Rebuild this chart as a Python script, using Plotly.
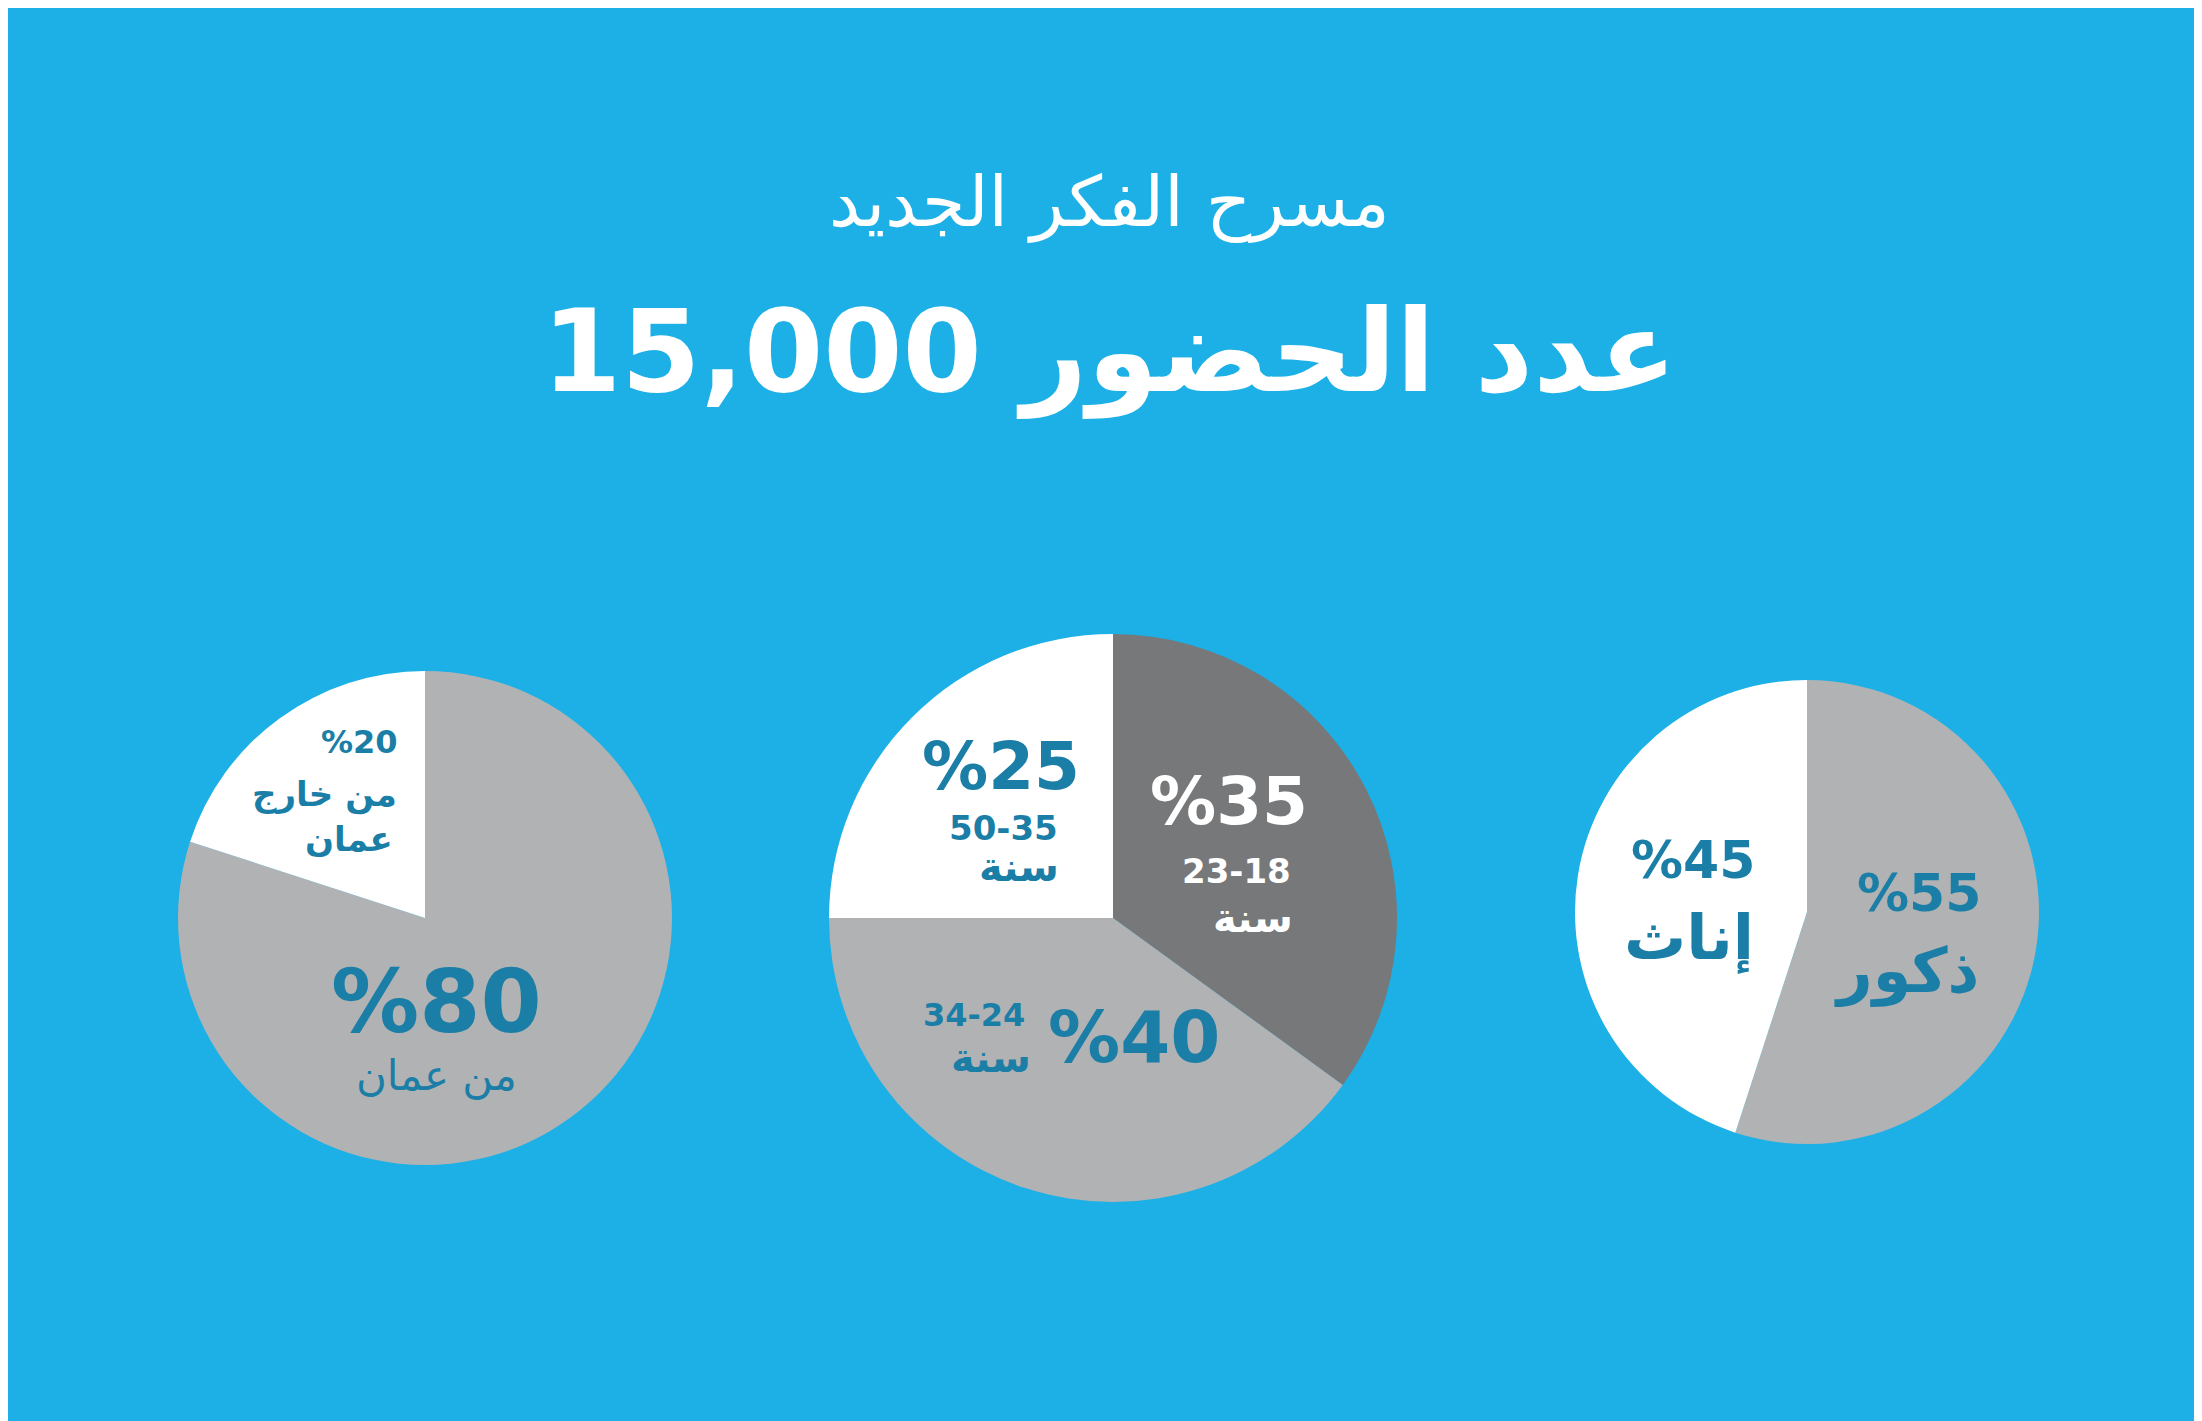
import plotly.graph_objects as go

W, H = 2202, 1421
BG = "#1cb0e6"
TEAL = "#1b7ea6"
WHITE = "#ffffff"
LIGHT = "#b1b2b4"
DARK = "#77787a"

origin_labels = ["من عمان", "من خارج عمان"]
origin_values = [80, 20]
age_labels = ["23-18", "34-24", "50-35"]
age_values = [35, 40, 25]
gender_labels = ["ذكور", "إناث"]
gender_values = [55, 45]

title_top = "مسرح الفكر الجديد"
title_main = "15,000 عدد الحضور"

FONT = "DejaVu Sans"


def dom(cx, cy, r):
    return dict(x=[(cx - r) / W, (cx + r) / W], y=[1 - (cy + r) / H, 1 - (cy - r) / H])


fig = go.Figure()
pies = [
    (origin_labels, origin_values, [LIGHT, WHITE], (417, 910, 247)),
    (age_labels, age_values, [DARK, LIGHT, WHITE], (1105, 910, 284)),
    (gender_labels, gender_values, [LIGHT, WHITE], (1799, 904, 232)),
]
for labels, values, colors, (cx, cy, r) in pies:
    fig.add_trace(go.Pie(labels=labels, values=values, sort=False, direction="clockwise",
                         rotation=0, marker=dict(colors=colors, line=dict(width=0)),
                         textinfo="none", hoverinfo="label+percent", domain=dom(cx, cy, r),
                         showlegend=False))


def txt(s, x, y, size, color=TEAL, bold=True):
    fig.add_annotation(text=f"<b>{s}</b>" if bold else s, x=x / W, y=1 - y / H,
                       xref="paper", yref="paper", showarrow=False,
                       xanchor="center", yanchor="middle",
                       font=dict(family=FONT, size=size, color=color))


txt(title_top, 1101, 194, 70, WHITE, bold=False)
txt(title_main, 1101, 344, 114, WHITE)

# pie 1
txt(f"%{origin_values[1]}", 351, 734, 32)
txt("من خارج", 316, 786, 34)
txt("عمان", 341, 831, 34)
txt(f"%{origin_values[0]}", 428, 993, 88)
txt(origin_labels[0], 428, 1067, 42, bold=False)

# pie 2
txt(f"%{age_values[2]}", 993, 758, 66)
txt(age_labels[2], 995, 820, 34)
txt("سنة", 1011, 859, 40)
txt(f"%{age_values[0]}", 1221, 793, 66, WHITE)
txt(age_labels[0], 1228, 863, 34, WHITE)
txt("سنة", 1245, 910, 40, WHITE)
txt(f"%{age_values[1]}", 1126, 1029, 72)
txt(age_labels[1], 966, 1007, 32)
txt("سنة", 983, 1050, 40)

# pie 3
txt(f"%{gender_values[1]}", 1685, 852, 52)
txt(gender_labels[1], 1681, 929, 62)
txt(f"%{gender_values[0]}", 1911, 885, 52)
txt(gender_labels[0], 1898, 962, 62)

fig.update_layout(width=W, height=H, margin=dict(l=0, r=0, t=0, b=0),
                  paper_bgcolor=BG, plot_bgcolor=BG)
fig.write_html("out.html")
